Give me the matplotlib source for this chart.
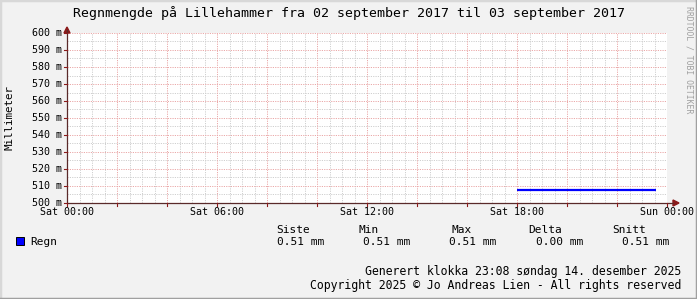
import matplotlib
matplotlib.use("Agg")
import matplotlib.pyplot as plt
from matplotlib.patches import Polygon
from matplotlib.lines import Line2D

# data (hours since Sat 00:00, rain in mm)
rain_hours = [18.0, 23.55]
rain_mm = [0.5076, 0.5076]

title = "Regnmengde på Lillehammer fra 02 september 2017 til 03 september 2017"
x_ticks = [0, 6, 12, 18, 24]
x_labels = ["Sat 00:00", "Sat 06:00", "Sat 12:00", "Sat 18:00", "Sun 00:00"]
y_ticks = [0.50, 0.51, 0.52, 0.53, 0.54, 0.55, 0.56, 0.57, 0.58, 0.59, 0.60]
legend_heads = ["Siste", "Min", "Max", "Delta", "Snitt"]
legend_vals = ["0.51 mm", "0.51 mm", "0.51 mm", "0.00 mm", "0.51 mm"]

W, H = 697, 299
mono = "DejaVu Sans Mono"

fig = plt.figure(figsize=(W / 100, H / 100), dpi=100)
fig.patch.set_facecolor("#F2F2F2")

def px(x, y):
    # pixel coords (top-left origin) -> figure fraction
    return x / W, 1 - y / H

# plot area 67..667 x 33..203
L, R, T, B = 67, 667, 33, 203
ax = fig.add_axes([L / W, 1 - B / H, (R - L) / W, (B - T) / H])
ax.set_facecolor("white")
ax.set_xlim(0, 24)
ax.set_ylim(0.5, 0.6)
for s in ax.spines.values():
    s.set_visible(False)
ax.set_xticks([])
ax.set_yticks([])

# grid
minor_c = "#CFCFCF"
major_c = "#EAA8A8"
dots = (0, (1.2, 1.2))
for i in range(1, 48):
    h = i * 0.5
    if i % 4 == 0:
        continue
    ax.axvline(h, color=minor_c, lw=0.7, ls=dots, zorder=1)
for i in range(1, 20):
    v = 0.5 + i * 0.005
    if i % 2 == 0:
        continue
    ax.axhline(v, color=minor_c, lw=0.7, ls=dots, zorder=1)
for h in range(2, 25, 2):
    ax.axvline(h, color=major_c, lw=0.7, ls=dots, zorder=2)
for v in y_ticks[1:]:
    ax.axhline(v, color=major_c, lw=0.7, ls=dots, zorder=2)

ax.plot(rain_hours, rain_mm, color="#0000FF", lw=1.6, zorder=5, solid_capstyle="butt")

# axes with arrows
axis_c = "#5A2A2A"
fig.add_artist(Line2D([px(L, 0)[0], px(673, 0)[0]], [px(0, B)[1]] * 2, color=axis_c, lw=0.9))
fig.add_artist(Line2D([px(L, 0)[0]] * 2, [px(0, B)[1], px(0, 30)[1]], color=axis_c, lw=0.9))
arrow_c = "#8B1A1A"
fig.add_artist(Polygon([px(673, B - 3), px(679, B), px(673, B + 3)], closed=True, color=arrow_c, transform=fig.transFigure))
fig.add_artist(Polygon([px(L - 3, 33), px(L, 27), px(L + 3, 33)], closed=True, color=arrow_c, transform=fig.transFigure))

# tick marks
for h in range(0, 25, 2):
    xp = L + h * 25
    fig.add_artist(Line2D([px(xp, 0)[0]] * 2, [px(0, B)[1], px(0, B + 3)[1]], color=arrow_c, lw=0.8))
for v in y_ticks:
    yp = B - (v - 0.5) / 0.1 * (B - T)
    fig.add_artist(Line2D([px(L - 3, 0)[0], px(L, 0)[0]], [px(0, yp)[1]] * 2, color=arrow_c, lw=0.8))

# tick labels
for v in y_ticks:
    yp = B - (v - 0.5) / 0.1 * (B - T)
    fig.text(*px(62, yp), "%d m" % round(v * 1000), ha="right", va="center", family=mono, fontsize=7.2)
for h, lab in zip(x_ticks, x_labels):
    xp = L + h * 25
    fig.text(*px(xp, 212), lab, ha="center", va="center", family=mono, fontsize=7.2)

fig.text(*px(349, 13), title, ha="center", va="center", family=mono, fontsize=9.5)
fig.text(*px(10, 118), "Millimeter", ha="center", va="center", rotation=90, family=mono, fontsize=7.8)
fig.text(*px(689, 60), "RRDTOOL / TOBI OETIKER", ha="center", va="center", rotation=270,
         family=mono, fontsize=5.9, color="#A0A0A0")

# legend
fig.add_artist(plt.Rectangle(px(16, 245), 8 / W, 8 / H, facecolor="#0000FF", edgecolor="black", lw=0.7,
                             transform=fig.transFigure))
fig.text(*px(30, 242), "Regn", ha="left", va="center", family=mono, fontsize=8)
head_x = [276, 359, 451, 528, 612]
val_x = [277, 363, 449, 536, 622]
for hx, hd in zip(head_x, legend_heads):
    fig.text(*px(hx, 230), hd, ha="left", va="center", family=mono, fontsize=8)
for vx, vl in zip(val_x, legend_vals):
    fig.text(*px(vx, 242), vl, ha="left", va="center", family=mono, fontsize=8)

fig.text(*px(681, 271), "Generert klokka 23:08 søndag 14. desember 2025", ha="right", va="center",
         family=mono, fontsize=8.3)
fig.text(*px(681, 285), "Copyright 2025 © Jo Andreas Lien - All rights reserved", ha="right", va="center",
         family=mono, fontsize=8.3)

# frame
fig.add_artist(Line2D([0, 0], [0, 1], color="#D8D8D8", lw=2.5))
fig.add_artist(Line2D([0, 1], [1, 1], color="#D8D8D8", lw=2.5))
fig.add_artist(Line2D([1, 1], [0, 1], color="#A0A0A0", lw=2.5))
fig.add_artist(Line2D([0, 1], [0, 0], color="#A0A0A0", lw=2.5))

fig.savefig("out.png", dpi=100, facecolor=fig.get_facecolor())
